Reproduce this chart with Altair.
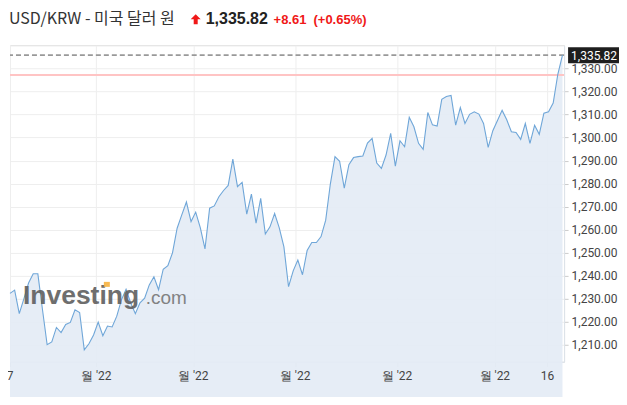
import altair as alt
import pandas as pd

# ---- data ----
values = [
    1232.3, 1233.7, 1223.5, 1230.0, 1236.8, 1240.8, 1240.8, 1225.2, 1210.0, 1211.2,
    1217.5, 1215.3, 1218.8, 1219.7, 1225.2, 1224.0, 1207.8, 1210.4, 1214.2, 1219.8,
    1213.9, 1218.1, 1217.7, 1222.4, 1229.5, 1234.1, 1228.1, 1223.5, 1228.2, 1230.2,
    1236.0, 1239.5, 1233.9, 1242.8, 1244.3, 1249.9, 1260.6, 1266.4, 1272.0, 1263.5,
    1267.6, 1260.8, 1251.6, 1269.3, 1270.3, 1274.3, 1277.0, 1279.2, 1290.6, 1278.7,
    1280.5, 1266.7, 1275.4, 1262.8, 1273.6, 1258.1, 1261.2, 1267.0, 1260.8, 1252.5,
    1235.2, 1242.1, 1246.8, 1240.4, 1250.9, 1254.4, 1254.4, 1257.0, 1264.1, 1279.8,
    1291.7, 1289.7, 1278.0, 1288.2, 1291.3, 1291.7, 1292.0, 1297.6, 1299.6, 1288.9,
    1286.6, 1292.4, 1301.8, 1287.6, 1298.6, 1296.0, 1308.8, 1304.7, 1297.5, 1294.9,
    1310.9, 1305.5, 1305.0, 1316.6, 1317.8, 1318.3, 1305.4, 1313.0, 1306.1, 1310.1,
    1311.2, 1310.2, 1306.1, 1295.7, 1303.0, 1307.4, 1311.8, 1307.7, 1302.5, 1302.2,
    1299.2, 1306.1, 1297.5, 1305.3, 1301.4, 1310.6, 1311.2, 1315.0, 1327.5, 1335.82,
]
x_tick_pos = [0.0, 18.58, 39.48, 61.42, 83.35, 104.43, 115.78]
x_tick_labels = ["7", "월 '22", "월 '22", "월 '22", "월 '22", "월 '22", "16"]
y_ticks = [1210, 1220, 1230, 1240, 1250, 1260, 1270, 1280, 1290, 1300, 1310, 1320, 1330]
last_price = 1335.82
prev_close = 1327.21
title_name = "USD/KRW - 미국 달러 원"
last_label = "1,335.82"
change_abs = "+8.61"
change_pct = "(+0.65%)"

W, H = 555, 317
RED = "#f01818"
FONT = "Roboto"

df = pd.DataFrame({"i": list(range(len(values))), "v": values})
ticks_df = pd.DataFrame({"i": x_tick_pos, "lab": x_tick_labels})
one = pd.DataFrame({"a": [0]})

xs = alt.Scale(domain=[0, 119.35], nice=False, zero=False)
ys = alt.Scale(domain=[1202.6, 1340.1], nice=False, zero=False)

x_axis = alt.Axis(
    values=x_tick_pos, labels=False,
    grid=True, gridColor="#eeeeee", title=None, domainColor="#dde3ea",
    tickColor="#cccccc", tickSize=5,
)
y_axis = alt.Axis(
    orient="right", values=y_ticks, format=",.2f", grid=True, gridColor="#eeeeee",
    title=None, domainColor="#dde3ea", tickColor="#cccccc", tickSize=4,
    labelColor="#444444", labelFontSize=12, labelFont=FONT, labelPadding=3,
)
x_enc = alt.X("i:Q", scale=xs, axis=x_axis)
y_enc = alt.Y("v:Q", scale=ys, axis=y_axis)

area = alt.Chart(df).mark_area(color="#e4ecf5", opacity=0.92).encode(
    x=x_enc, y=y_enc, y2=alt.value(H)
)
line = alt.Chart(df).mark_line(color="#6fa6d8", strokeWidth=1.1).encode(x=x_enc, y=y_enc)

x_labels = alt.Chart(ticks_df).mark_text(
    color="#444444", fontSize=12, font=FONT, align="center", baseline="alphabetic"
).encode(x=x_enc, y=alt.value(H + 18), text="lab:N")

prev_rule = alt.Chart(pd.DataFrame({"v": [prev_close]})).mark_rule(
    color="#ffc4c4", strokeWidth=2
).encode(y=y_enc)
last_rule = alt.Chart(pd.DataFrame({"v": [last_price]})).mark_rule(
    color="#999999", strokeWidth=1.6, strokeDash=[5, 3]
).encode(y=y_enc)

box = alt.Chart(one).mark_rect(color="#1e1e1e").encode(
    x=alt.value(559), x2=alt.value(611), y=alt.value(2), y2=alt.value(18)
)
box_text = alt.Chart(one).mark_text(
    text=last_label, color="white", fontSize=12, font=FONT, align="center", baseline="middle"
).encode(x=alt.value(585), y=alt.value(10.5))

# header texts
t_name = alt.Chart(one).mark_text(
    text=title_name, color="#333333", fontSize=16, font="Noto Sans CJK KR",
    align="left", baseline="alphabetic"
).encode(x=alt.value(-1), y=alt.value(-21))
arrow = alt.Chart(one).mark_point(
    shape="M0,-1 L1,0 L0.4,0 L0.4,1 L-0.4,1 L-0.4,0 L-1,0 Z",
    filled=True, color=RED, size=100, opacity=1
).encode(x=alt.value(186), y=alt.value(-26))
t_last = alt.Chart(one).mark_text(
    text=last_label, color="#222222", fontSize=16, fontWeight="bold", font="Liberation Sans",
    align="left", baseline="alphabetic"
).encode(x=alt.value(196), y=alt.value(-21))
t_chg = alt.Chart(one).mark_text(
    text=change_abs, color=RED, fontSize=13, fontWeight="bold", font="Liberation Sans",
    align="left", baseline="alphabetic"
).encode(x=alt.value(264), y=alt.value(-21))
t_pct = alt.Chart(one).mark_text(
    text=change_pct, color=RED, fontSize=13, fontWeight="bold", font="Liberation Sans",
    align="left", baseline="alphabetic"
).encode(x=alt.value(304), y=alt.value(-21))

# watermark
wm1 = alt.Chart(one).mark_text(
    text="Investing", color="#5f5f5f", fontSize=26.5, fontWeight="bold", font="Liberation Sans",
    align="left", baseline="alphabetic", opacity=0.9
).encode(x=alt.value(13), y=alt.value(259))
wm2 = alt.Chart(one).mark_text(
    text=".com", color="#777777", fontSize=19, font="Liberation Sans",
    align="left", baseline="alphabetic", opacity=0.9
).encode(x=alt.value(136), y=alt.value(259))
wm_dot = alt.Chart(one).mark_rect(color="#f7b33f", opacity=0.9).encode(
    x=alt.value(94), x2=alt.value(100), y=alt.value(237), y2=alt.value(242)
)

chart = alt.layer(
    area, prev_rule, last_rule, line, x_labels, box, box_text,
    t_name, arrow, t_last, t_chg, t_pct, wm1, wm2, wm_dot
).properties(
    width=W, height=H,
    autosize=alt.AutoSizeParams(type="none"),
    padding={"left": 2, "top": 37, "right": 55, "bottom": 35},
).configure_view(stroke=None).configure(background="white")

chart.save("out.html", embed_options={"renderer": "svg", "actions": False})
